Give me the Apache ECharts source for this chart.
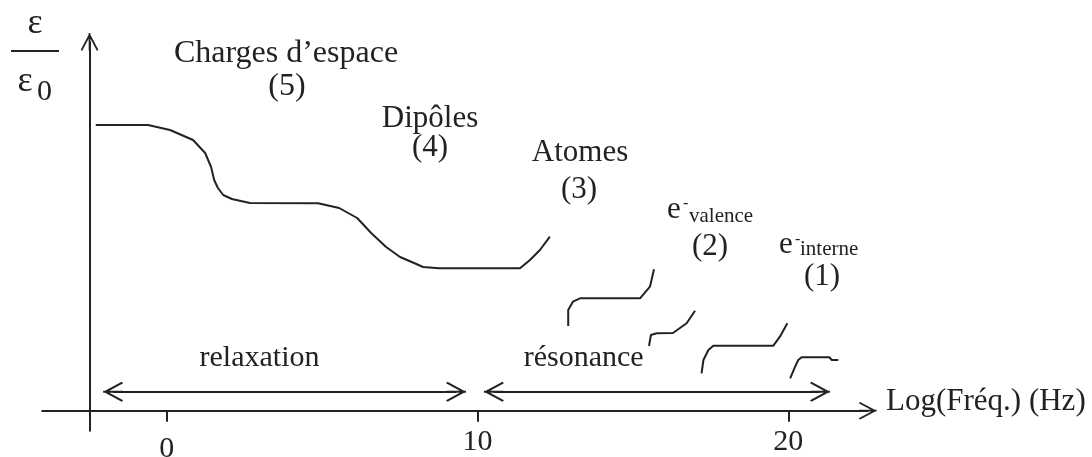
<!DOCTYPE html>
<html>
<head>
<meta charset="utf-8">
<script src="https://cdn.jsdelivr.net/npm/echarts@6/dist/echarts.min.js"></script>
<style>
html,body{margin:0;padding:0;background:#fff;}
#chart{width:1092px;height:457px;}
</style>
</head>
<body>
<div id="chart"></div>
<script>
// ---- data (x = log10 frequency in Hz, y = relative permittivity, arbitrary units) ----
const tickValues = [0, 10, 20];

const relaxationCurve = [
  [-2.28, 28.57], [-0.60, 28.57], [0.11, 28.07], [0.85, 27.07], [1.24, 25.77],
  [1.43, 24.37], [1.53, 23.07], [1.65, 22.27], [1.82, 21.57], [2.10, 21.17],
  [2.68, 20.77], [4.87, 20.74], [5.55, 20.27], [6.13, 19.27], [6.58, 17.77],
  [7.06, 16.37], [7.51, 15.37], [7.96, 14.77], [8.25, 14.37], [8.76, 14.24],
  [11.37, 14.24], [11.69, 15.07], [12.01, 16.07], [12.33, 17.40]
];
const atomesCurve = [
  [12.92, 8.47], [12.92, 10.07], [13.07, 10.90], [13.30, 11.24], [15.23, 11.24],
  [15.55, 12.40], [15.68, 14.14]
];
const valenceCurveA = [
  [15.52, 6.47], [15.58, 7.57], [15.77, 7.74], [16.29, 7.77], [16.73, 8.74], [17.00, 10.00]
];
const valenceCurveB = [
  [17.21, 3.74], [17.27, 5.07], [17.43, 6.07], [17.59, 6.50], [19.52, 6.50],
  [19.73, 7.40], [19.97, 8.74]
];
const interneCurve = [
  [20.06, 3.24], [20.22, 4.40], [20.32, 5.07], [20.43, 5.34], [21.32, 5.34],
  [21.40, 5.07], [21.61, 5.07]
];
const relaxationSpan = [-1.72, 9.31];
const resonanceSpan = [10.53, 21.02];
const spanLevel = 1.9;

// ---- styling ----
const INK = '#222';
const FONT = '"Liberation Serif", "DejaVu Serif", serif';
const chevron = 'path://M10,0 L20,19 L18.5,20.5 L10,4.5 L1.5,20.5 L0,19 Z M9,0 L11,0 L11,20 L9,20 Z';

function curveSeries(data) {
  return {
    type: 'line', data: data, showSymbol: false, silent: true, animation: false,
    lineStyle: { color: INK, width: 2 }, clip: false
  };
}
function spanLine(span) {
  return [{ coord: [span[0], spanLevel] }, { coord: [span[1], spanLevel] }];
}
function txt(text, x, y, size, align) {
  return {
    type: 'text', x: x, y: y, silent: true,
    style: {
      text: text, font: size + 'px ' + FONT, fill: INK,
      align: align || 'center', verticalAlign: 'middle',
      textAlign: align || 'center', textVerticalAlign: 'middle'
    }
  };
}

const chart = echarts.init(document.getElementById('chart'), null, { renderer: 'canvas' });
chart.setOption({
  animation: false,
  backgroundColor: '#fff',
  grid: { left: 42.3, right: 224.3, top: 42, bottom: 26.3, containLabel: false,
    outerBoundsMode: 'none' },
  xAxis: [{
    type: 'value', min: -4, max: 22.555,
    axisLine: { onZero: true, symbol: ['none', chevron], symbolSize: [20, 18],
      lineStyle: { color: INK, width: 2 } },
    axisTick: { show: true, customValues: tickValues, length: 11, inside: false,
      lineStyle: { color: INK, width: 2 } },
    axisLabel: {
      show: true, customValues: tickValues, margin: -4, fontSize: 30,
      fontFamily: FONT, color: INK,
      formatter: function (v) { return v === 0 ? '{low|' + v + '}' : '{n|' + v + '}'; },
      rich: {
        n: { fontSize: 30, fontFamily: FONT, color: INK },
        low: { fontSize: 30, fontFamily: FONT, color: INK, padding: [7, 0, 0, 0] }
      }
    },
    splitLine: { show: false }
  }, {
    type: 'value', min: -1.52, max: 25.035, show: false,
    axisLine: { show: false }, axisTick: { show: false }, axisLabel: { show: false },
    splitLine: { show: false }
  }],
  yAxis: {
    type: 'value', min: -2, max: 36.87,
    axisLine: { show: true, onZero: true, onZeroAxisIndex: 1, symbol: ['none', chevron],
      symbolSize: [20, 18], lineStyle: { color: INK, width: 2 } },
    axisTick: { show: false }, axisLabel: { show: false }, splitLine: { show: false }
  },
  series: [
    curveSeries(relaxationCurve),
    curveSeries(atomesCurve),
    curveSeries(valenceCurveA),
    curveSeries(valenceCurveB),
    curveSeries(interneCurve),
    {
      type: 'line', data: [], silent: true, animation: false,
      markLine: {
        silent: true, animation: false,
        symbol: [chevron, chevron], symbolSize: [20, 20],
        label: { show: false },
        lineStyle: { color: INK, width: 2, type: 'solid' },
        data: [spanLine(relaxationSpan), spanLine(resonanceSpan)]
      }
    }
  ],
  graphic: [
    txt('ε', 35, 23.6, 36),
    { type: 'line', silent: true, shape: { x1: 11, y1: 51, x2: 59, y2: 51 },
      style: { stroke: INK, lineWidth: 2 } },
    txt('ε', 25, 81.6, 36),
    txt('0', 44.5, 92.3, 30),
    txt('Charges d’espace', 286, 53.4, 32),
    txt('(5)', 287, 86.4, 32),
    txt('Dipôles', 430, 118.8, 31),
    txt('(4)', 430, 147.8, 31),
    txt('Atomes', 580, 152.8, 31),
    txt('(3)', 579, 189.8, 31),
    txt('e', 667, 209.8, 31, 'left'),
    txt('-', 683, 204, 16, 'left'),
    txt('valence', 689, 216, 21, 'left'),
    txt('(2)', 710, 246.8, 31),
    txt('e', 779, 244.8, 31, 'left'),
    txt('-', 795, 240, 16, 'left'),
    txt('interne', 800, 249, 21, 'left'),
    txt('(1)', 822, 276.8, 31),
    txt('relaxation', 259.5, 358, 30),
    txt('résonance', 583.7, 358, 30),
    txt('Log(Fréq.) (Hz)', 886, 401.8, 31, 'left')
  ]
});
</script>
</body>
</html>
